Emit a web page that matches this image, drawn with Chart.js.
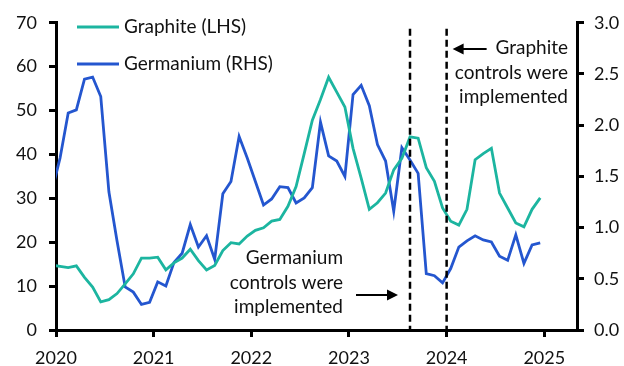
<!DOCTYPE html>
<html>
<head>
<meta charset="utf-8">
<script src="https://cdn.jsdelivr.net/npm/chart.js@4.4.1/dist/chart.umd.min.js"></script>
<style>
  html, body { margin: 0; padding: 0; background: #fff; }
  #wrap { width: 624px; height: 366px; }
</style>
</head>
<body>
<div id="wrap"><canvas id="chart" width="624" height="366"></canvas></div>
<script>
// monthly observations, plotted mid-month
const months = [
  "2019-12",
  "2020-01","2020-02","2020-03","2020-04","2020-05","2020-06","2020-07","2020-08","2020-09","2020-10","2020-11","2020-12",
  "2021-01","2021-02","2021-03","2021-04","2021-05","2021-06","2021-07","2021-08","2021-09","2021-10","2021-11","2021-12",
  "2022-01","2022-02","2022-03","2022-04","2022-05","2022-06","2022-07","2022-08","2022-09","2022-10","2022-11","2022-12",
  "2023-01","2023-02","2023-03","2023-04","2023-05","2023-06","2023-07","2023-08","2023-09","2023-10","2023-11","2023-12",
  "2024-01","2024-02","2024-03","2024-04","2024-05","2024-06","2024-07","2024-08","2024-09","2024-10","2024-11","2024-12"
];

// Graphite, LHS
const graphite = [
  14.8,
  14.5, 14.2, 14.6, 12.0, 9.8, 6.4, 6.9, 8.3, 10.5, 12.8, 16.4, 16.4,
  16.6, 13.7, 15.3, 16.4, 18.4, 15.8, 13.7, 14.7, 18.1, 19.9, 19.6, 21.4,
  22.7, 23.3, 24.8, 25.2, 28.2, 32.7, 40.2, 47.8, 52.5, 57.6, 54.2, 50.8,
  41.4, 34.6, 27.5, 29.0, 31.2, 36.5, 39.1, 44.0, 43.7, 37.0, 33.9, 27.8,
  24.8, 23.9, 27.5, 38.8, 40.2, 41.4, 31.2, 27.8, 24.4, 23.5, 27.5, 30.1
];

// Germanium, RHS
const germanium = [
  1.36,
  1.68, 2.12, 2.15, 2.45, 2.47, 2.28, 1.35, 0.87, 0.42, 0.37, 0.25, 0.27,
  0.47, 0.43, 0.66, 0.75, 1.03, 0.81, 0.92, 0.69, 1.33, 1.45, 1.89, 1.68,
  1.45, 1.22, 1.28, 1.40, 1.39, 1.24, 1.29, 1.39, 2.03, 1.70, 1.65, 1.50,
  2.30, 2.39, 2.19, 1.81, 1.65, 1.16, 1.78, 1.66, 1.53, 0.55, 0.53, 0.46,
  0.60, 0.81, 0.87, 0.92, 0.88, 0.86, 0.72, 0.68, 0.93, 0.65, 0.83, 0.85
];

const yearTicks = [2020, 2021, 2022, 2023, 2024, 2025];
const leftTicks = [0, 10, 20, 30, 40, 50, 60, 70];
const rightTicks = [0, 0.5, 1.0, 1.5, 2.0, 2.5, 3.0];

// export control dates (decimal years): germanium Aug 2023, graphite Dec 2023
const germaniumControls = 2023.625;
const graphiteControls = 2024.0;

const TEAL = "#1cb5a0";
const BLUE = "#2456cf";
const FONT = "Lato, 'Noto Sans', sans-serif";

// "2020-03" -> 2020 + 2.5/12
function monthToYear(m) {
  const [yy, mm] = m.split("-").map(Number);
  return yy + (mm - 0.5) / 12;
}

const graphitePts = months.map((m, i) => ({ x: monthToYear(m), y: graphite[i] }));
const germaniumPts = months.map((m, i) => ({ x: monthToYear(m), y: germanium[i] }));

function arrow(ctx, x1, x2, y) {
  // shaft from x1 to x2, head at x2
  const dir = x2 > x1 ? 1 : -1;
  ctx.beginPath();
  ctx.moveTo(x1, y);
  ctx.lineTo(x2 - dir * 9, y);
  ctx.stroke();
  ctx.beginPath();
  ctx.moveTo(x2, y);
  ctx.lineTo(x2 - dir * 11, y - 5.5);
  ctx.lineTo(x2 - dir * 11, y + 5.5);
  ctx.closePath();
  ctx.fill();
}

const notes = {
  id: "notes",
  afterDatasetsDraw(chart) {
    const { ctx, scales } = chart;
    const x = scales.x, y = scales.yL;
    ctx.save();

    // event lines
    ctx.strokeStyle = "#000";
    ctx.lineWidth = 2.5;
    ctx.setLineDash([7, 4]);
    const gx = x.getPixelForValue(germaniumControls);
    const hx = x.getPixelForValue(graphiteControls);
    [gx, hx].forEach(px => {
      ctx.beginPath();
      ctx.moveTo(px, y.top + 6);
      ctx.lineTo(px, y.bottom);
      ctx.stroke();
    });
    ctx.setLineDash([]);

    // annotations
    ctx.fillStyle = "#111";
    ctx.font = "19px " + FONT;
    ctx.textAlign = "right";
    ctx.textBaseline = "middle";
    ["Germanium", "controls were", "implemented"].forEach((t, i) => {
      ctx.fillText(t, gx - 67, 258 + i * 24.5);
    });
    ["Graphite", "controls were", "implemented"].forEach((t, i) => {
      ctx.fillText(t, 568, 48 + i * 24.5);
    });
    ctx.fillStyle = "#000";
    ctx.lineWidth = 2;
    arrow(ctx, gx - 54, gx - 12, 295);
    arrow(ctx, hx + 40, hx + 6, 49);

    // legend
    ctx.textAlign = "left";
    ctx.fillStyle = "#111";
    ctx.lineWidth = 3;
    [[TEAL, "Graphite (LHS)", 27], [BLUE, "Germanium (RHS)", 64]].forEach(([c, t, ly]) => {
      ctx.strokeStyle = c;
      ctx.beginPath();
      ctx.moveTo(77, ly);
      ctx.lineTo(119, ly);
      ctx.stroke();
      ctx.fillText(t, 124, ly);
    });
    ctx.restore();
  }
};

const axisGrid = { drawOnChartArea: false, drawTicks: true, tickLength: 7, color: "#000", lineWidth: 3 };
const axisBorder = { display: true, color: "#000", width: 3 };
const tickFont = { family: FONT, size: 18 };

new Chart(document.getElementById("chart"), {
  type: "line",
  data: {
    datasets: [
      { label: "Graphite (LHS)", data: graphitePts, yAxisID: "yL", borderColor: TEAL, borderWidth: 2.8, pointRadius: 0, tension: 0 },
      { label: "Germanium (RHS)", data: germaniumPts, yAxisID: "yR", borderColor: BLUE, borderWidth: 2.8, pointRadius: 0, tension: 0 }
    ]
  },
  options: {
    responsive: false,
    devicePixelRatio: 1,
    animation: false,
    layout: { padding: { top: 20, left: 0, right: 0, bottom: 0 } },
    plugins: { legend: { display: false }, tooltip: { enabled: false } },
    scales: {
      x: {
        type: "linear",
        min: 2020,
        max: 2025.335,
        grid: axisGrid,
        border: axisBorder,
        afterBuildTicks: s => { s.ticks = yearTicks.map(v => ({ value: v })); },
        ticks: { color: "#111", font: tickFont, padding: 10, maxRotation: 0, callback: v => String(v) },
        afterFit: s => { s.height = 36; }
      },
      yL: {
        position: "left",
        min: 0,
        max: 70,
        grid: axisGrid,
        border: axisBorder,
        afterBuildTicks: s => { s.ticks = leftTicks.map(v => ({ value: v })); },
        ticks: { color: "#111", font: tickFont, padding: 12 },
        afterFit: s => { s.width = 56; }
      },
      yR: {
        position: "right",
        min: 0,
        max: 3,
        grid: axisGrid,
        border: axisBorder,
        afterBuildTicks: s => { s.ticks = rightTicks.map(v => ({ value: v })); },
        ticks: { color: "#111", font: tickFont, padding: 10, callback: v => v.toFixed(1) },
        afterFit: s => { s.width = 47; }
      }
    }
  },
  plugins: [notes]
});
</script>
</body>
</html>
